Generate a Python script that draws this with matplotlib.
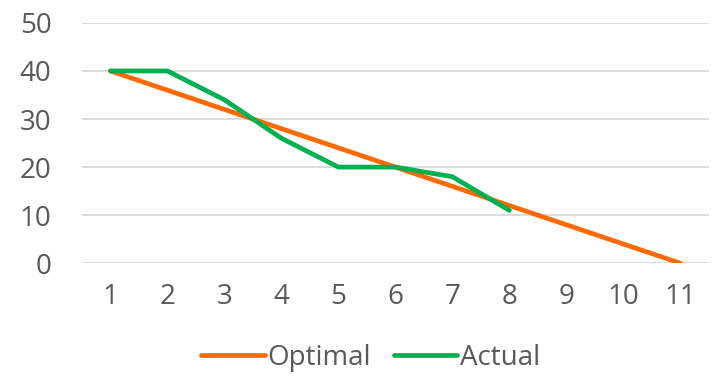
import matplotlib
matplotlib.use("Agg")
import matplotlib.pyplot as plt
from matplotlib.ticker import MultipleLocator

days = [1, 2, 3, 4, 5, 6, 7, 8, 9, 10, 11]
optimal = [40, 36, 32, 28, 24, 20, 16, 12, 8, 4, 0]
actual_days = [1, 2, 3, 4, 5, 6, 7, 8]
actual = [40, 40, 34, 26, 20, 20, 18, 11]

plt.rcParams['font.family'] = ['Open Sans', 'DejaVu Sans']
text_color = '#595959'

fig = plt.figure(figsize=(7.13, 3.76), dpi=100)
ax = fig.add_axes([0.115, 0.30, 0.879, 0.639])

ax.plot(days, optimal, color='#FF6A00', lw=3.4, solid_capstyle='round', label='Optimal', zorder=3)
ax.plot(actual_days, actual, color='#00B050', lw=3.4, solid_capstyle='round', label='Actual', zorder=4)

ax.set_xlim(0.5, 11.5)
ax.set_ylim(0, 50)
ax.yaxis.set_major_locator(MultipleLocator(10))
ax.set_xticks(days)
ax.grid(axis='y', color='#d9d9d9', lw=1.3, zorder=0)
for s in ax.spines.values():
    s.set_visible(False)
ax.tick_params(axis='both', length=0, labelsize=20, colors=text_color)
ax.tick_params(axis='x', pad=14)
ax.tick_params(axis='y', pad=22)
for lbl in ax.get_yticklabels():
    lbl.set_horizontalalignment('right')

leg = fig.legend(loc='lower center', bbox_to_anchor=(0.52, -0.055), ncol=2, frameon=False,
                 fontsize=20, handlelength=2.3, handletextpad=0.1, columnspacing=0.8,
                 labelcolor=text_color)

fig.savefig('out.png', dpi=100)
